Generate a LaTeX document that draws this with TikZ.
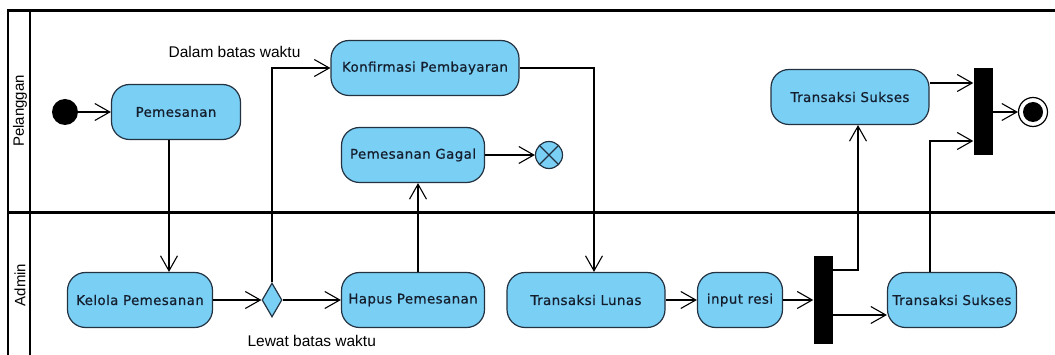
\documentclass[tikz,border=0pt]{standalone}
\usepackage{fontspec}
\setmainfont{Liberation Sans}
\newfontfamily\dialogfont[FakeBold=0.6, LetterSpace=3]{DejaVu Sans}
\usepackage{xcolor}
\usepackage{tikz}
\usetikzlibrary{arrows.meta,shapes.geometric}

\definecolor{actfill}{RGB}{122,207,245}
\definecolor{actline}{RGB}{35,50,65}
\definecolor{acttext}{RGB}{20,30,45}

\begin{document}
\begin{tikzpicture}[x=1pt, y=-1pt, node distance=111pt,
  activity/.style={rectangle, rounded corners=18pt, minimum height=55pt, text centered, draw=actline, fill=actfill, line width=1.2pt, text=acttext, font=\dialogfont\fontsize{13.4}{15}\selectfont},
  bar/.style={rectangle, fill=black, inner sep=0pt, minimum width=19pt, minimum height=88pt},
  arr/.style={-{Straight Barb[length=15pt, width=17pt]}, line width=1.1pt},
  lane/.style={line width=2.6pt},
  lanelabel/.style={rotate=90, font=\fontsize{15}{18}\selectfont},
  flowlabel/.style={font=\fontsize{15.5}{18}\selectfont, inner sep=2pt}]
\useasboundingbox (0,0) rectangle (1055,355);

% swimlanes
\draw[lane] (8,355) -- (8,10.5) -- (1055,10.5);
\draw[lane] (30,10.5) -- (30,355);
\draw[lane, line width=3pt] (8,213) -- (1055,213);
\node (pelanggan) [lanelabel] at (20,111) {Pelanggan};
\node (admin) [lanelabel] at (20,285) {Admin};

\node (start) [circle, fill=black, minimum size=26pt, inner sep=0pt] at (65,112) {};
\node (pemesanan) [activity, minimum width=129pt, right of=start] {Pemesanan};
\node (kelola) [activity, minimum width=145pt, below of=pemesanan, xshift=-36pt, yshift=-77pt] {Kelola Pemesanan};
\node (cek) [diamond, draw=actline, fill=actfill, line width=1.2pt, minimum width=20pt, minimum height=34pt, inner sep=0pt, right of=kelola, xshift=21pt] {};
\node (hapus) [activity, minimum width=143pt, right of=cek, xshift=30pt] {Hapus Pemesanan};
\node (gagal) [activity, minimum width=143pt, above of=hapus, yshift=34pt] {Pemesanan Gagal};
\node (flowend) [circle, draw=actline, fill=actfill, line width=1.2pt, minimum size=27pt, inner sep=0pt, right of=gagal, xshift=25pt,
  path picture={\draw[line width=1.2pt, actline] (path picture bounding box.south west) -- (path picture bounding box.north east) (path picture bounding box.north west) -- (path picture bounding box.south east);}] {};
\node (konfirmasi) [activity, minimum width=188pt, above of=gagal, xshift=12pt, yshift=-24pt] {Konfirmasi Pembayaran};
\node (lunas) [activity, minimum width=158pt, right of=hapus, xshift=62pt] {Transaksi Lunas};
\node (resi) [activity, minimum width=85pt, right of=lunas, xshift=43pt] {input resi};
\node (fork) [bar, right of=resi, xshift=-28pt] {};
\node (suksesadmin) [activity, minimum width=129pt, right of=fork, xshift=18pt] {Transaksi Sukses};
\node (suksesplg) [activity, minimum width=158pt, above of=suksesadmin, xshift=-102pt, yshift=92pt] {Transaksi Sukses};
\node (join) [bar, minimum height=87pt, right of=suksesplg, xshift=22pt, yshift=-15pt] {};
\node (end) [circle, draw=black, fill=white, line width=1.2pt, minimum size=29pt, inner sep=0pt, right of=join, xshift=-61pt,
  path picture={\fill[black] (path picture bounding box.center) circle (10pt);}] {};

\draw[arr] (start) -- (pemesanan);
\draw[arr] ([xshift=-7pt]pemesanan.south) -- ([xshift=-7pt]pemesanan.south |- kelola.north);
\draw[arr] (kelola) -- (cek);
\draw[arr] (cek.north) |- (konfirmasi.west) node[flowlabel, pos=0.5, anchor=south east, xshift=31pt, yshift=8pt] {Dalam batas waktu};
\draw[arr] (cek) -- (hapus) node[flowlabel, midway, below=33pt] {Lewat batas waktu};
\draw[arr] ([xshift=5pt]hapus.north) -- ([xshift=5pt]gagal.south);
\draw[arr] (gagal) -- (flowend);
\draw[arr] (konfirmasi.east) -| ([xshift=8pt]lunas.north);
\draw[arr] (lunas) -- (resi);
\draw[arr] (resi) -- (fork);
\draw[arr] ([yshift=30pt]fork.east) -| ([xshift=8pt]suksesplg.south);
\draw[arr] ([yshift=-15pt]fork.east) -- ([yshift=-15pt]suksesadmin.west);
\draw[arr] ([xshift=-22pt]suksesadmin.north) |- ([yshift=-29pt]join.west);
\draw[arr] ([yshift=14pt]suksesplg.east) -- ([yshift=14pt]suksesplg.east -| join.west);
\draw[arr] (join) -- (end);
\end{tikzpicture}
\end{document}
